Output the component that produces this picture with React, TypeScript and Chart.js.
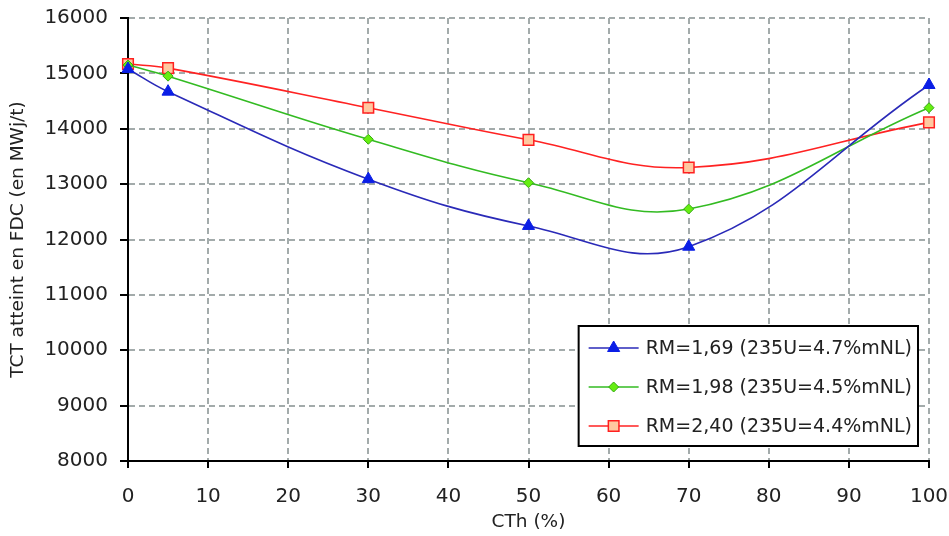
import React, { useEffect, useRef } from 'react';
import { Chart, registerables } from 'chart.js';

Chart.register(...registerables);

const cthValues = [0, 5, 30, 50, 70, 100];
const rm169 = [15080, 14670, 13090, 12245, 11870, 14790];
const rm198 = [15150, 14950, 13810, 13025, 12550, 14380];
const rm240 = [15170, 15095, 14380, 13800, 13300, 14115];
const seriesLabels = ['RM=1,69 (235U=4.7%mNL)', 'RM=1,98 (235U=4.5%mNL)', 'RM=2,40 (235U=4.4%mNL)'];
const xTitle = 'CTh (%)';
const yTitle = 'TCT atteint en FDC (en MWj/t)';

const FONT = '"DejaVu Sans", Verdana, sans-serif';
const TEXT = '#222222';

function drawMarker(ctx: CanvasRenderingContext2D, style: string, r: number, x: number, y: number, fill: string, stroke: string, bw: number) {
  ctx.beginPath();
  if (style === 'triangle') {
    ctx.moveTo(x, y - r);
    ctx.lineTo(x + r * Math.sin(Math.PI / 3), y + r * 0.5);
    ctx.lineTo(x - r * Math.sin(Math.PI / 3), y + r * 0.5);
  } else if (style === 'rectRot') {
    ctx.moveTo(x, y - r);
    ctx.lineTo(x + r, y);
    ctx.lineTo(x, y + r);
    ctx.lineTo(x - r, y);
  } else {
    const h = r * Math.SQRT1_2;
    ctx.rect(x - h, y - h, 2 * h, 2 * h);
  }
  ctx.closePath();
  ctx.fillStyle = fill;
  ctx.fill();
  ctx.lineWidth = bw;
  ctx.strokeStyle = stroke;
  ctx.stroke();
}

const boxLegend = {
  id: 'boxLegend',
  afterDatasetsDraw(chart: any) {
    const { ctx, chartArea } = chart;
    const sets = chart.data.datasets;
    ctx.save();
    ctx.font = '19px ' + FONT;
    const textW = Math.max(...sets.map((d: any) => ctx.measureText(d.label).width));
    const padL = 10, lineLen = 50, gap = 7, padR = 6, rowH = 39, padV = 1.5;
    const w = padL + lineLen + gap + textW + padR;
    const h = rowH * sets.length + 2 * padV;
    const x0 = chartArea.right - 11 - w;
    const y0 = chartArea.bottom - 15 - h;
    ctx.fillStyle = '#ffffff';
    ctx.fillRect(x0, y0, w, h);
    ctx.lineWidth = 2;
    ctx.strokeStyle = '#000000';
    ctx.strokeRect(x0, y0, w, h);
    sets.forEach((d: any, i: number) => {
      const cy = y0 + padV + rowH * (i + 0.5) + 1;
      ctx.beginPath();
      ctx.moveTo(x0 + padL, cy);
      ctx.lineTo(x0 + padL + lineLen, cy);
      ctx.strokeStyle = d.borderColor;
      ctx.lineWidth = d.borderWidth;
      ctx.stroke();
      drawMarker(ctx, d.pointStyle, d.pointRadius, x0 + padL + lineLen / 2, cy, d.pointBackgroundColor, d.pointBorderColor, d.pointBorderWidth);
      ctx.fillStyle = TEXT;
      ctx.textAlign = 'left';
      ctx.textBaseline = 'middle';
      ctx.fillText(d.label, x0 + padL + lineLen + gap, cy + 1);
    });
    ctx.restore();
  },
};

function toPoints(ys: number[]) {
  return cthValues.map((x, i) => ({ x, y: ys[i] }));
}

export default function App() {
  const ref = useRef<HTMLCanvasElement | null>(null);
  useEffect(() => {
    if (!ref.current) return;
    const chart = new Chart(ref.current, {
      type: 'line',
      data: {
        datasets: [
          {
            label: seriesLabels[0],
            data: toPoints(rm169),
            borderColor: '#2a2ab8',
            borderWidth: 1.6,
            pointStyle: 'triangle',
            pointRadius: 7,
            pointBackgroundColor: '#0a1ee6',
            pointBorderColor: '#0a1ee6',
            pointBorderWidth: 1,
            tension: 0.4,
            clip: false,
          },
          {
            label: seriesLabels[1],
            data: toPoints(rm198),
            borderColor: '#33bb22',
            borderWidth: 1.6,
            pointStyle: 'rectRot',
            pointRadius: 5,
            pointBackgroundColor: '#66ee11',
            pointBorderColor: '#33aa11',
            pointBorderWidth: 1,
            tension: 0.4,
            clip: false,
          },
          {
            label: seriesLabels[2],
            data: toPoints(rm240),
            borderColor: '#ff2222',
            borderWidth: 1.6,
            pointStyle: 'rect',
            pointRadius: 7.5,
            pointBackgroundColor: '#ffc8a0',
            pointBorderColor: '#ff2020',
            pointBorderWidth: 1.5,
            tension: 0.4,
            clip: false,
          },
        ] as any,
      },
      options: {
        responsive: false,
        animation: false,
        events: [],
        layout: { padding: { left: 0, right: 20, top: 18, bottom: 0 } },
        plugins: {
          legend: { display: false },
          tooltip: { enabled: false },
          title: { display: false },
        },
        scales: {
          x: {
            type: 'linear',
            min: 0,
            max: 100,
            afterFit: (s: any) => { s.height = 75; s.paddingLeft = 0; s.paddingRight = 0; },
            ticks: { stepSize: 10, color: TEXT, font: { family: FONT, size: 20 }, padding: 17, maxRotation: 0, callback: (v: any) => String(v) },
            grid: { color: '#a3abab', lineWidth: 2, tickColor: '#000000', tickLength: 7, tickWidth: 2, tickBorderDash: [] },
            border: { color: '#000000', width: 2, dash: [6, 4] },
            title: { display: true, text: xTitle, color: TEXT, font: { family: FONT, size: 18.5 }, padding: { top: 0, bottom: 3 } },
          },
          y: {
            type: 'linear',
            min: 8000,
            max: 16000,
            afterFit: (s: any) => { s.width = 128; s.paddingTop = 0; s.paddingBottom = 0; },
            ticks: { stepSize: 1000, color: TEXT, font: { family: FONT, size: 20 }, padding: 12, callback: (v: any) => String(v) },
            grid: { color: '#a3abab', lineWidth: 2, tickColor: '#000000', tickLength: 8, tickWidth: 2, tickBorderDash: [] },
            border: { color: '#000000', width: 2, dash: [6, 4] },
            title: { display: true, text: yTitle, color: TEXT, font: { family: FONT, size: 18.5 }, padding: { top: 7, bottom: 0 } },
          },
        },
      } as any,
      plugins: [boxLegend],
    });
    return () => chart.destroy();
  }, []);
  return (
    <div style={{ position: 'fixed', left: 0, top: 0, width: 949, height: 536, background: '#ffffff' }}>
      <canvas ref={ref} width={949} height={536} style={{ display: 'block' }} />
    </div>
  );
}
